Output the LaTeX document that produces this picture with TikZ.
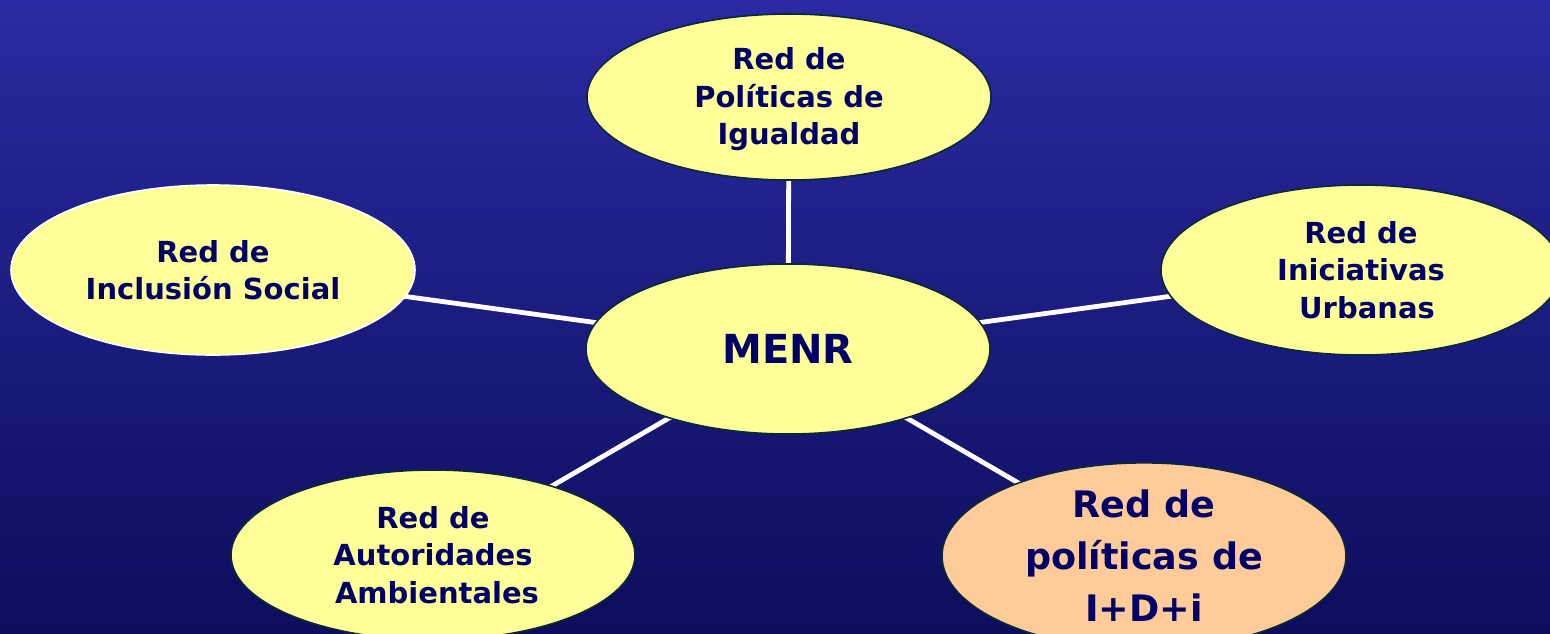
\documentclass[tikz,border=0pt]{standalone}
\usepackage{fontspec}
\setmainfont{DejaVu Sans}
\usetikzlibrary{shapes.geometric}
\definecolor{bgtop}{RGB}{42,42,162}
\definecolor{bgbot}{RGB}{13,13,92}
\definecolor{txt}{RGB}{0,0,102}
\definecolor{yfill}{RGB}{255,255,153}
\definecolor{ofill}{RGB}{255,204,153}
\definecolor{edge}{RGB}{10,40,55}
\pgfdeclarelayer{bg}
\pgfdeclarelayer{lines}
\pgfsetlayers{bg,lines,main}
\tikzset{
  netnode/.style={ellipse, draw=edge, line width=0.8pt, fill=yfill, inner sep=0pt,
    minimum width=202pt, minimum height=85pt, align=center, text=txt,
    font=\bfseries\fontsize{14.5}{18.75}\selectfont},
  linkline/.style={draw=white, line width=2.4pt}
}
\begin{document}
\begin{tikzpicture}[x=0.5pt,y=-0.5pt]
\useasboundingbox (0,0) rectangle (1550,633);
\clip (0,0) rectangle (1550,633);
\begin{pgfonlayer}{bg}
\shade[top color=bgtop, bottom color=bgbot] (0,0) rectangle (1550,633);
\end{pgfonlayer}
\node[netnode, minimum height=83pt] (top) at (789,97) {\\[-5.2pt]Red de\\Políticas de\\Igualdad};
\node[netnode, draw=white] (left) at (213,270) {Red de\\Inclusión Social};
\node[netnode, minimum width=200pt] (right) at (1361,270) {Red de\\Iniciativas\\\hspace*{6pt}Urbanas};
\node[netnode, font=\bfseries\fontsize{20}{24}\selectfont] (menr) at (788,349) {MENR};
\node[netnode] (bl) at (433,555) {Red de\\Autoridades\\\hspace*{4pt}Ambientales};
\node[netnode, fill=ofill, font=\bfseries\fontsize{18.25}{26}\selectfont] (br) at (1144,556) {Red de\\políticas de\\I+D+i};
\begin{pgfonlayer}{lines}
\draw[linkline] (menr.center) -- (top.center);
\draw[linkline] (menr.center) -- (left.center);
\draw[linkline] (menr.center) -- (right.center);
\draw[linkline] (menr.center) -- (bl.center);
\draw[linkline] (menr.center) -- (br.center);
\end{pgfonlayer}
\end{tikzpicture}
\end{document}
